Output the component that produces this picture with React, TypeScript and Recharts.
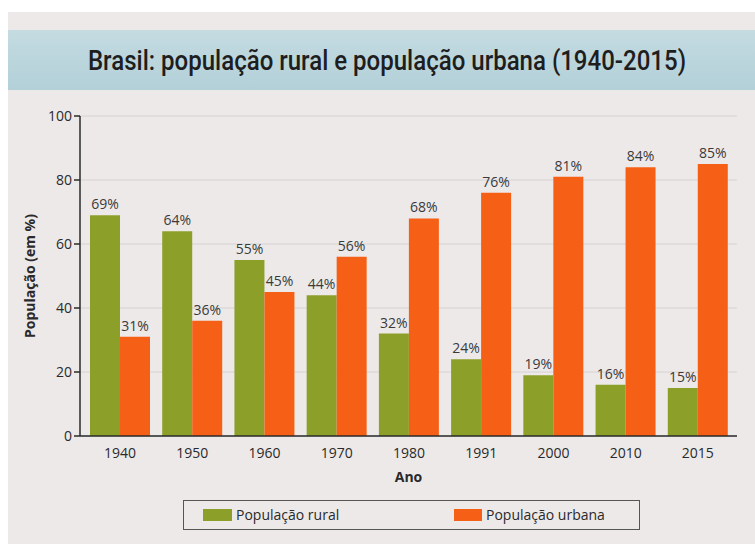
import React from "react";
import { BarChart, Bar, XAxis, YAxis, CartesianGrid, LabelList } from "recharts";

const years = ["1940", "1950", "1960", "1970", "1980", "1991", "2000", "2010", "2015"];
const rural = [69, 64, 55, 44, 32, 24, 19, 16, 15];
const urbana = [31, 36, 45, 56, 68, 76, 81, 84, 85];
const yTicks = [0, 20, 40, 60, 80, 100];

const data = years.map((y, i) => ({ ano: y, rural: rural[i], urbana: urbana[i] }));

const GREEN = "#8c9f28";
const ORANGE = "#f65f16";
const FONT = "'Open Sans', 'DejaVu Sans', sans-serif";

const pct = (v: any) => `${v}%`;

export default function App() {
  return (
    <div style={{ position: "absolute", left: 0, top: 0, width: 755, height: 544, background: "#ffffff", overflow: "hidden" }}>
      <div style={{ position: "absolute", left: 8, top: 12, width: 760, height: 540, background: "#ede9e9" }} />
      <div
        style={{
          position: "absolute",
          left: 8,
          top: 30,
          width: 760,
          height: 60,
          background: "linear-gradient(#c4dbe1, #b3d0d8)",
        }}
      />
      <div
        style={{
          position: "absolute",
          left: 0,
          top: 45,
          width: 774,
          textAlign: "center",
          fontFamily: "'Roboto', 'Liberation Sans', sans-serif",
          fontSize: 27,
          fontWeight: 500,
          lineHeight: "32px",
          color: "#1e1e1e",
          transform: "scaleX(0.89)",
        }}
      >
        Brasil: população rural e população urbana (1940-2015)
      </div>
      <div style={{ position: "absolute", left: 0, top: 0 }}>
        <BarChart
          width={755}
          height={544}
          data={data}
          margin={{ top: 116, right: 18, bottom: 48, left: 0 }}
          barCategoryGap={6}
          barGap={0}
        >
          <CartesianGrid vertical={false} stroke="#d6d2d2" strokeWidth={1} />
          <XAxis
            dataKey="ano"
            height={60}
            padding={{ left: 4, right: 3 }}
            tickLine={false}
            axisLine={{ stroke: "#2a2a2a", strokeWidth: 1.5 }}
            tick={{ fill: "#2a2a2a", fontSize: 14, fontFamily: FONT }}
            tickMargin={6}
            label={{ value: "Ano", position: "insideBottom", offset: 14, fill: "#2a2a2a", fontSize: 14, fontWeight: 700, fontFamily: FONT }}
          />
          <YAxis
            width={80}
            domain={[0, 100]}
            ticks={yTicks}
            tickLine={{ stroke: "#2a2a2a", strokeWidth: 1.5 }}
            tickSize={6}
            axisLine={{ stroke: "#2a2a2a", strokeWidth: 1.5 }}
            tick={{ fill: "#2a2a2a", fontSize: 14, fontFamily: FONT }}
            label={{
              value: "População (em %)",
              angle: -90,
              position: "insideLeft",
              offset: 30,
              style: { textAnchor: "middle", fill: "#2a2a2a", fontSize: 14, fontWeight: 700, fontFamily: FONT },
            }}
          />
          <Bar dataKey="rural" fill={GREEN} isAnimationActive={false}>
            <LabelList dataKey="rural" position="top" formatter={pct} fill="#3a3a3a" fontSize={14} fontFamily={FONT} offset={6} />
          </Bar>
          <Bar dataKey="urbana" fill={ORANGE} isAnimationActive={false}>
            <LabelList dataKey="urbana" position="top" formatter={pct} fill="#3a3a3a" fontSize={14} fontFamily={FONT} offset={6} />
          </Bar>
        </BarChart>
      </div>
      <div
        style={{
          position: "absolute",
          left: 183,
          top: 500,
          width: 457,
          height: 30,
          border: "1.5px solid #555",
          boxSizing: "border-box",
          fontFamily: FONT,
          fontSize: 14,
          color: "#2a2a2a",
        }}
      >
        <div style={{ position: "absolute", left: 19, top: 8, width: 29, height: 12, background: GREEN }} />
        <div style={{ position: "absolute", left: 52, top: 4 }}>População rural</div>
        <div style={{ position: "absolute", left: 270, top: 8, width: 28, height: 12, background: ORANGE }} />
        <div style={{ position: "absolute", left: 302, top: 4 }}>População urbana</div>
      </div>
    </div>
  );
}
